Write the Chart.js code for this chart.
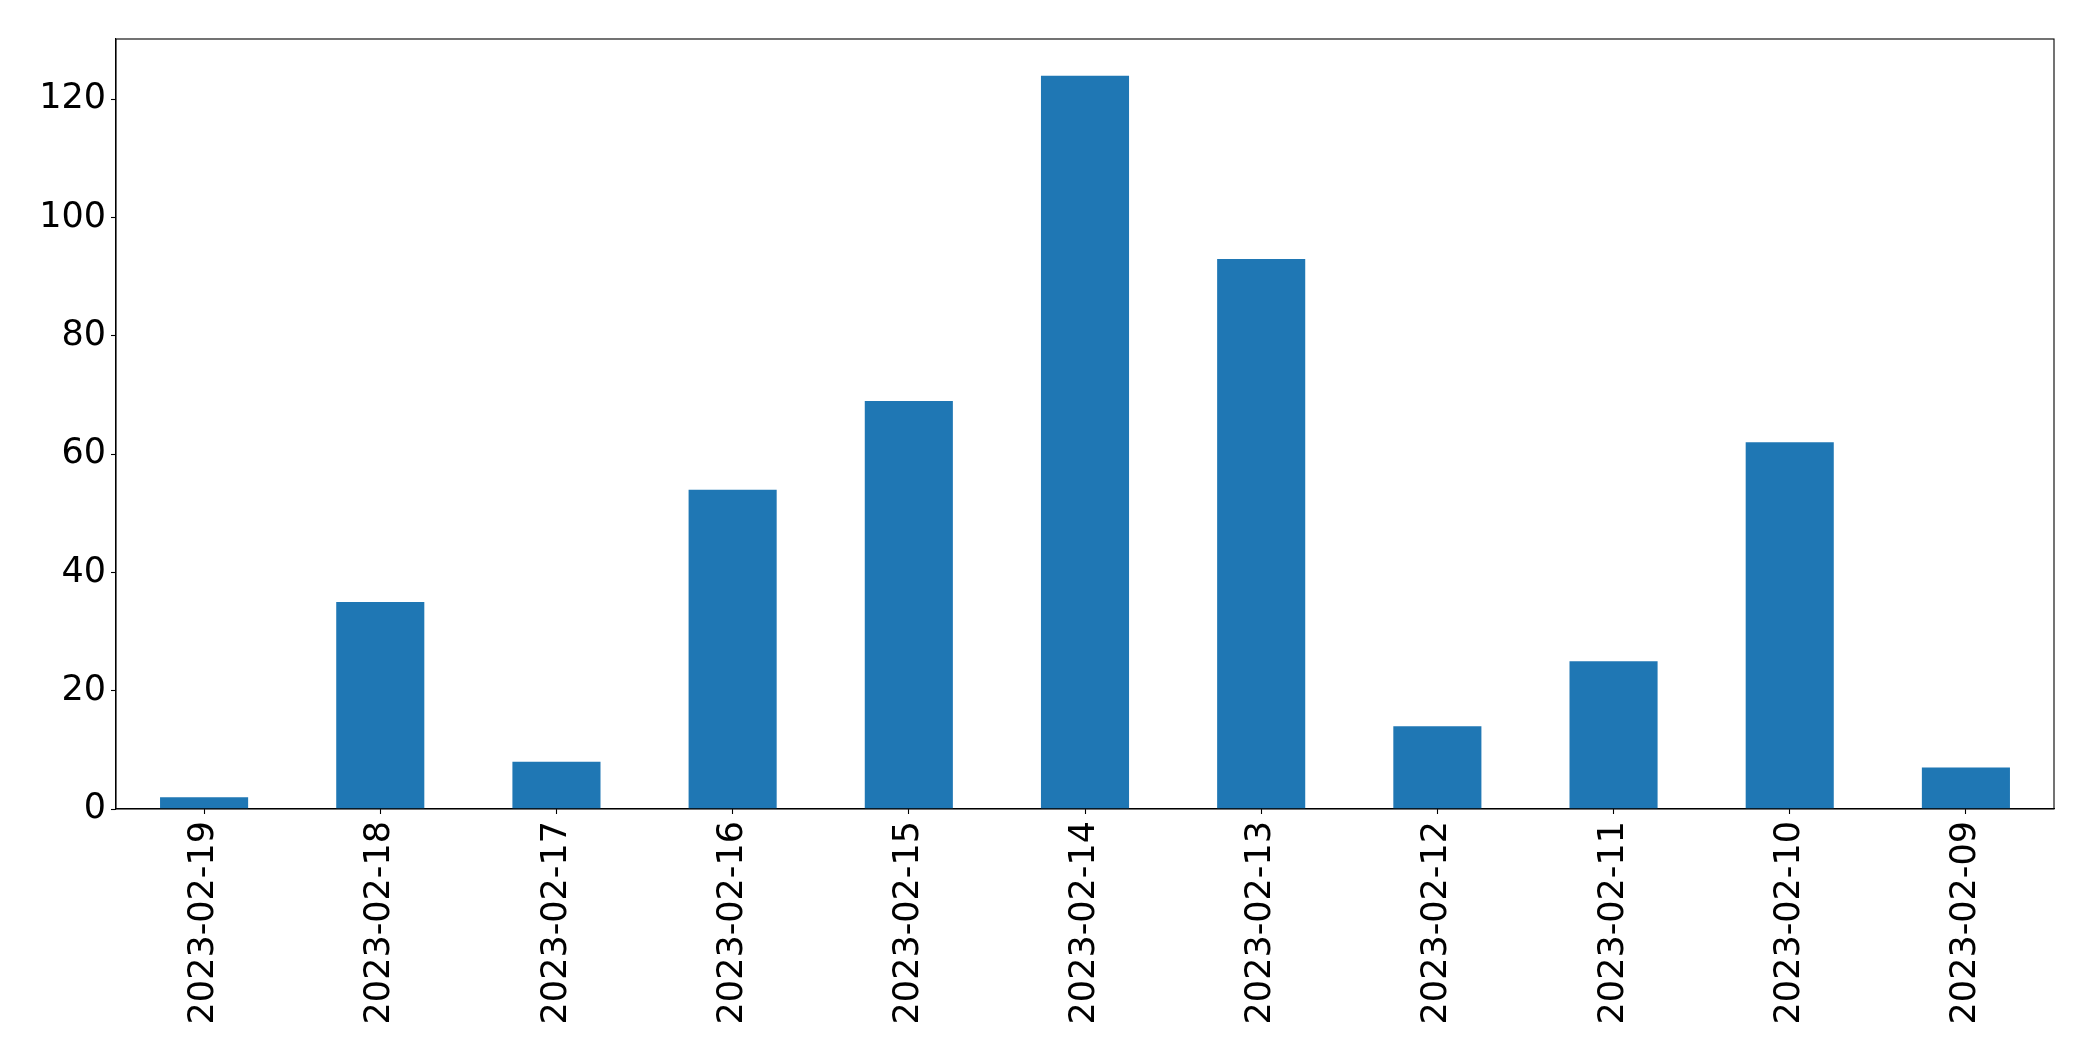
<!DOCTYPE html>
<html>
<head>
<meta charset="utf-8">
<script src="https://cdn.jsdelivr.net/npm/chart.js@4/dist/chart.umd.min.js"></script>
<style>
  html, body { margin: 0; padding: 0; background: #ffffff; }
  #wrap { width: 2093px; height: 1061px; position: relative; }
</style>
</head>
<body>
<div id="wrap"><canvas id="c" width="2093" height="1061"></canvas></div>
<script>
const categories = ["2023-02-19", "2023-02-18", "2023-02-17", "2023-02-16", "2023-02-15", "2023-02-14", "2023-02-13", "2023-02-12", "2023-02-11", "2023-02-10", "2023-02-09"];
const counts = [2, 35, 8, 54, 69, 124, 93, 14, 25, 62, 7];
const yTicks = [0, 20, 40, 60, 80, 100, 120];
const yMax = 130.2;

const FONT = "'DejaVu Sans', sans-serif";

const framePlugin = {
  id: 'frame',
  afterDraw(chart) {
    const a = chart.chartArea;
    const ctx = chart.ctx;
    ctx.save();
    ctx.strokeStyle = '#000000';
    ctx.lineWidth = 1.1;
    ctx.strokeRect(a.left, a.top, a.right - a.left, a.bottom - a.top);
    ctx.restore();
  }
};

new Chart(document.getElementById('c'), {
  type: 'bar',
  data: {
    labels: categories,
    datasets: [{
      data: counts,
      backgroundColor: '#1f77b4',
      borderWidth: 0,
      categoryPercentage: 1.0,
      barPercentage: 0.5
    }]
  },
  options: {
    responsive: false,
    animation: false,
    devicePixelRatio: 1,
    layout: { padding: { left: 0, top: 39, right: 39, bottom: 0 } },
    plugins: { legend: { display: false }, tooltip: { enabled: false } },
    scales: {
      x: {
        offset: true,
        grid: { display: true, drawOnChartArea: false, drawTicks: true, tickLength: 5, tickColor: '#000000', tickWidth: 1.1, offset: false },
        border: { display: true, color: '#000000', width: 1.1 },
        ticks: {
          autoSkip: false,
          maxRotation: 90,
          minRotation: 90,
          color: '#000000',
          padding: 7,
          font: { family: FONT, size: 35 }
        },
        afterFit(scale) { scale.height = 1061 - 809; }
      },
      y: {
        min: 0,
        max: yMax,
        grid: { display: true, drawOnChartArea: false, drawTicks: true, tickLength: 5, tickColor: '#000000', tickWidth: 1.1 },
        border: { display: true, color: '#000000', width: 1.1 },
        afterBuildTicks(scale) { scale.ticks = yTicks.map(v => ({ value: v })); },
        ticks: {
          color: '#000000',
          padding: 5,
          font: { family: FONT, size: 35 }
        },
        afterFit(scale) { scale.width = 116; }
      }
    }
  },
  plugins: [framePlugin]
});
</script>
</body>
</html>
